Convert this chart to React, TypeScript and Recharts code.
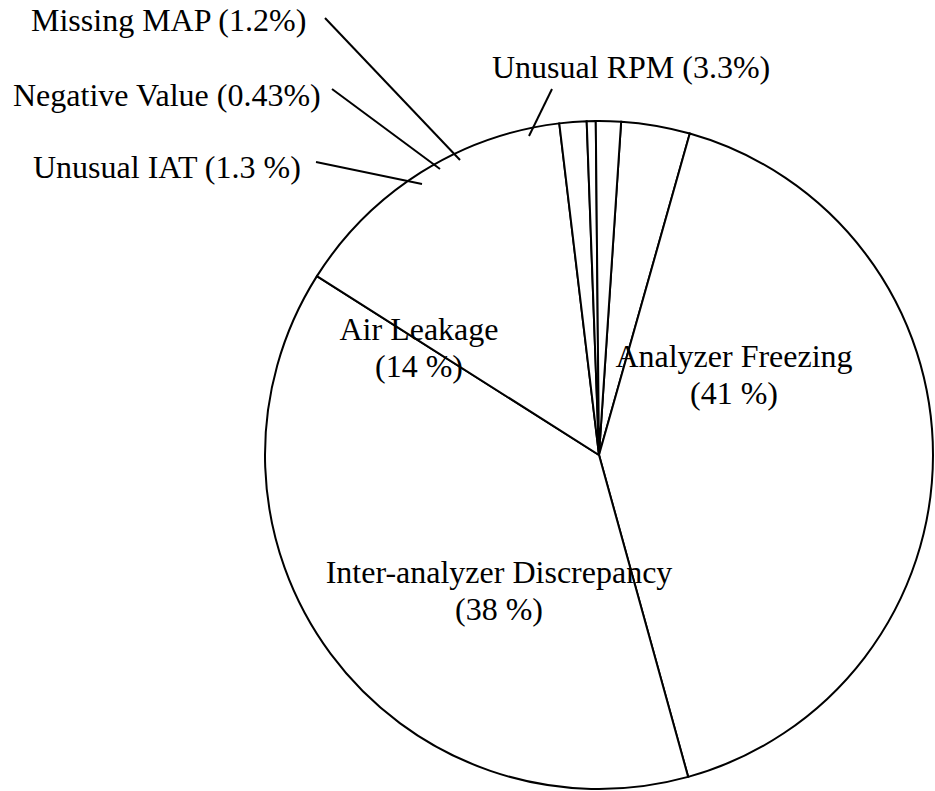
import React from 'react';
import { PieChart, Pie, Cell } from 'recharts';

// slice order runs clockwise from just right of 12 o'clock
const categories = [
  'Unusual RPM',
  'Analyzer Freezing',
  'Inter-analyzer Discrepancy',
  'Air Leakage',
  'Unusual IAT',
  'Negative Value',
  'Missing MAP',
];
const shares = [3.3, 41, 38, 14, 1.3, 0.43, 1.2];
const shareLabels = ['(3.3%)', '(41 %)', '(38 %)', '(14 %)', '(1.3 %)', '(0.43%)', '(1.2%)'];

const data = categories.map((name, i) => ({ name, value: shares[i], pct: shareLabels[i] }));

// label placement, offsets from the pie centre
// inline: one line text with leader line; block: two centred lines inside slice
const labelLayout = {
  'Unusual RPM': { kind: 'inline', x: -107, y: -377, anchor: 'start', line: [-47, -366, -70, -319] },
  'Analyzer Freezing': { kind: 'block', x: 135, y: -88 },
  'Inter-analyzer Discrepancy': { kind: 'block', x: -100, y: 128 },
  'Air Leakage': { kind: 'block', x: -180, y: -115 },
  'Unusual IAT': { kind: 'inline', x: -566, y: -277, anchor: 'start', line: [-283, -293, -177, -271] },
  'Negative Value': { kind: 'inline', x: -586, y: -349, anchor: 'start', line: [-267, -366, -159, -286] },
  'Missing MAP': { kind: 'inline', x: -568, y: -424, anchor: 'start', line: [-274, -437, -139, -295] },
};

const textStyle = { fontFamily: "'Liberation Serif', 'Times New Roman', 'DejaVu Serif', serif", fontSize: 32 };

const renderLabel = (props) => {
  const { cx, cy, index } = props;
  const d = data[index];
  const L = labelLayout[d.name];
  if (!L) return null;
  if (L.kind === 'inline') {
    const [x1, y1, x2, y2] = L.line;
    return (
      <g key={`lbl-${index}`}>
        <line x1={cx + x1} y1={cy + y1} x2={cx + x2} y2={cy + y2} stroke="#000" strokeWidth={2} />
        <text x={cx + L.x} y={cy + L.y} textAnchor={L.anchor} style={textStyle} fill="#000">
          {`${d.name} ${d.pct}`}
        </text>
      </g>
    );
  }
  return (
    <g key={`lbl-${index}`}>
      <text x={cx + L.x} y={cy + L.y} textAnchor="middle" style={textStyle} fill="#000">
        {d.name}
      </text>
      <text x={cx + L.x} y={cy + L.y + 37} textAnchor="middle" style={textStyle} fill="#000">
        {d.pct}
      </text>
    </g>
  );
};

export default function App() {
  return (
    <div style={{ position: 'absolute', left: 0, top: 0, width: 935, height: 791, background: '#fff' }}>
      <PieChart width={935} height={791} margin={{ top: 0, right: 0, bottom: 0, left: 0 }}>
        <Pie
          data={data}
          dataKey="value"
          nameKey="name"
          cx={599}
          cy={455}
          outerRadius={334}
          startAngle={86.2}
          endAngle={-273.8}
          stroke="#000"
          strokeWidth={2}
          label={renderLabel}
          labelLine={false}
          isAnimationActive={false}
        >
          {data.map((d) => (
            <Cell key={d.name} fill="#fff" />
          ))}
        </Pie>
      </PieChart>
    </div>
  );
}
